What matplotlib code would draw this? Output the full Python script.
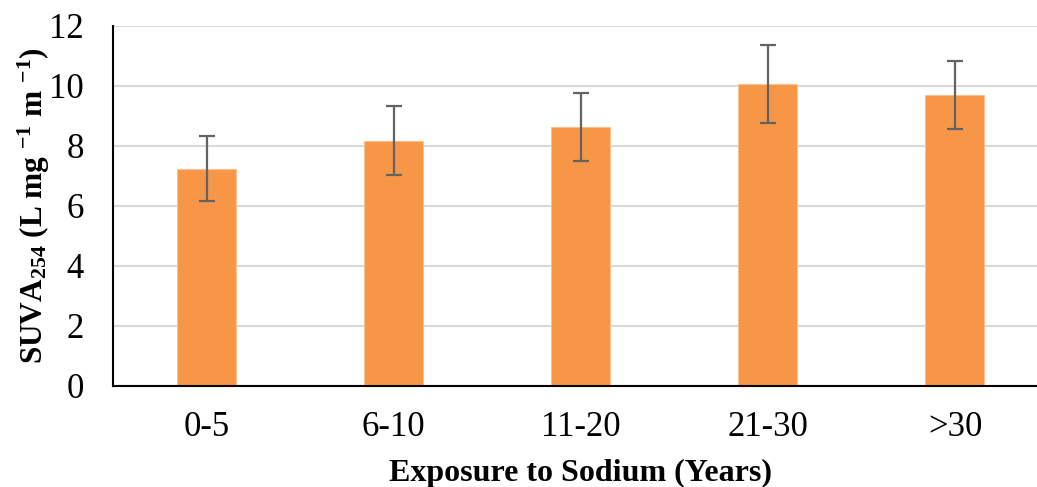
import matplotlib
matplotlib.use('Agg')
import matplotlib.pyplot as plt
import numpy as np

plt.rc('font', family='Liberation Serif', size=25)
plt.rc('mathtext', fontset='custom', rm='Liberation Serif:bold',
       it='Liberation Serif:bold', bf='Liberation Serif:bold')

categories = ['0-5', '6-10', '11-20', '21-30', '>30']
suva_mean = [7.23, 8.17, 8.62, 10.06, 9.69]
suva_err = [1.08, 1.15, 1.12, 1.30, 1.13]

bar_color = '#F79646'
err_color = '#636363'
grid_color = '#D9D9D9'

fig = plt.figure(figsize=(10.37, 4.87), dpi=100)
# the right end of the plot area is cut off by the figure edge, as in the original
ax = fig.add_axes([113 / 1037, 101 / 487, 935.5 / 1037, 360.5 / 487])

x = np.arange(len(categories))
ax.bar(x, suva_mean, width=0.315, color=bar_color, edgecolor='#FAC090',
       linewidth=0.8, zorder=2)
ax.errorbar(x, suva_mean, yerr=suva_err, fmt='none', ecolor=err_color,
            elinewidth=1.6, capsize=6, capthick=1.6, zorder=3)

ax.set_xlim(-0.5, len(categories) - 0.5)
ax.set_ylim(0, 12)
ax.set_yticks(np.arange(0, 13, 2))
ax.set_xticks(x)
ax.set_xticklabels(categories)
ax.yaxis.grid(True, color=grid_color, linewidth=1.5, zorder=0)
ax.set_axisbelow(True)

ax.tick_params(axis='y', length=0, pad=21)
ax.tick_params(axis='x', length=0, pad=18)

for s in ['top', 'right']:
    ax.spines[s].set_visible(False)
for s in ['left', 'bottom']:
    ax.spines[s].set_color('black')
    ax.spines[s].set_linewidth(1.5)
    ax.spines[s].set_zorder(4)

ax.set_xlabel('Exposure to Sodium (Years)', fontweight='bold', fontsize=23,
              labelpad=11)
ax.set_ylabel(r'SUVA$_{254}$ (L mg $^{-1}$ m $^{-1}$)', fontweight='bold',
              fontsize=22.5, labelpad=-2)

fig.savefig('out.png', dpi=100)
